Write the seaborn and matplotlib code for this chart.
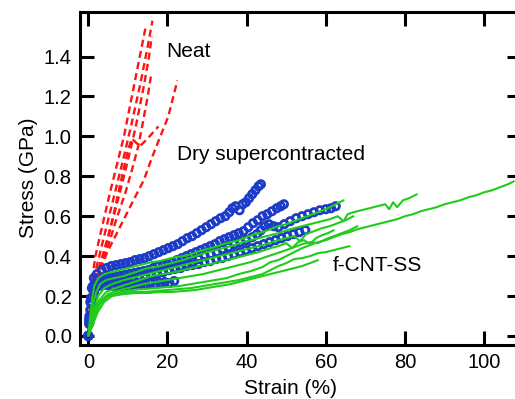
import numpy as np
import pandas as pd
import matplotlib
matplotlib.use("Agg")
import matplotlib.pyplot as plt
import seaborn as sns

RED   = "#ff1414"
BLUE  = "#1c3cc8"
GREEN = "#20cc1a"

# ---- Neat fibres (red dashed) ----
neat1_x = [0, 0.5, 1.2, 1.8, 3.5, 5.5, 7.5, 9, 11, 13, 14.5]
neat1_y = [0, 0.2, 0.32, 0.4, 0.55, 0.72, 0.88, 1.0, 1.2, 1.4, 1.55]
neat2_x = [0, 0.7, 1.5, 3, 5, 7, 9, 11, 13, 15, 16.2]
neat2_y = [0, 0.22, 0.3, 0.42, 0.58, 0.74, 0.9, 1.07, 1.25, 1.45, 1.58]
neat3_x = [0, 0.8, 2, 4, 6, 8, 10, 12, 14, 15.5, 16]
neat3_y = [0, 0.2, 0.3, 0.43, 0.57, 0.72, 0.88, 1.05, 1.25, 1.42, 1.5]
neat4_x = [0, 1, 2.5, 4.5, 6.5, 8.5, 10, 11, 13, 15, 17.7]
neat4_y = [0, 0.2, 0.3, 0.45, 0.62, 0.8, 0.93, 0.99, 0.95, 0.99, 1.05]
neat5_x = [0, 1, 2.3, 4.8, 8.1, 11.4, 14, 16.2, 18.2, 20.2, 22.5]
neat5_y = [0, 0.2, 0.3, 0.42, 0.55, 0.68, 0.78, 0.9, 1.0, 1.1, 1.28]
neat6_x = [0, 1, 3, 5, 7, 9.4, 11, 12.6, 13.6, 15, 15.8]
neat6_y = [0, 0.2, 0.33, 0.45, 0.58, 0.72, 0.83, 0.95, 1.05, 1.2, 1.3]

# ---- Dry supercontracted (blue rings) ----
dry1_x = [0, 0.2, 0.5, 0.9, 1.4, 2.2, 3.4, 4.6, 5.8, 7.0, 8.2, 9.4, 10.6, 11.8, 13.0,
          14.2, 15.4, 16.6, 17.8, 19.0, 20.2, 21.4, 22.6, 23.8, 25.0, 26.2, 27.4, 28.6,
          29.8, 31.0, 32.2, 33.4, 34.6, 35.6, 36.4, 37.2, 38.2, 39.0, 39.8, 40.6, 41.4,
          42.2, 43.0, 43.6]
dry1_y = [0, 0.08, 0.17, 0.24, 0.29, 0.31, 0.33, 0.34, 0.35, 0.355, 0.36, 0.365, 0.37,
          0.38, 0.385, 0.39, 0.40, 0.41, 0.42, 0.43, 0.44, 0.45, 0.46, 0.475, 0.49, 0.50,
          0.515, 0.53, 0.545, 0.56, 0.575, 0.59, 0.60, 0.62, 0.64, 0.65, 0.63, 0.66, 0.67,
          0.69, 0.71, 0.73, 0.75, 0.76]
dry2_x = [0, 0.3, 0.7, 1.2, 2.0, 3.2, 4.4, 5.6, 6.8, 8.0, 9.2, 10.4, 11.6, 12.8, 14.0,
          15.2, 16.4, 17.6, 18.8, 20.0, 21.2, 22.4, 23.6, 24.8, 26.0, 27.2, 28.4, 29.6,
          30.8, 32.0, 33.2, 34.4, 35.6, 36.8, 38.0, 39.2, 40.4, 41.6, 42.8, 44.0, 45.2,
          46.4, 47.6, 48.6, 49.4]
dry2_y = [0, 0.1, 0.19, 0.25, 0.27, 0.28, 0.285, 0.29, 0.295, 0.30, 0.305, 0.31, 0.315,
          0.32, 0.325, 0.33, 0.34, 0.35, 0.355, 0.36, 0.37, 0.38, 0.39, 0.40, 0.41, 0.42,
          0.43, 0.44, 0.45, 0.46, 0.475, 0.485, 0.495, 0.505, 0.515, 0.525, 0.545, 0.565,
          0.58, 0.60, 0.61, 0.625, 0.64, 0.65, 0.66]
dry3_x = [0, 0.3, 0.8, 1.4, 2.4, 3.9, 5.4, 6.9, 8.4, 9.9, 11.4, 12.9, 14.4, 15.9, 17.4,
          18.9, 20.4, 21.9, 23.4, 24.9, 26.4, 27.9, 29.4, 30.9, 32.4, 33.9, 35.4, 36.9,
          38.4, 39.9, 41.4, 42.6, 43.6, 44.6, 45.6, 46.8, 48.0, 49.5, 51.0, 52.5, 54.0,
          55.5, 57.0, 58.5, 60.0, 61.3, 62.5]
dry3_y = [0, 0.07, 0.16, 0.22, 0.25, 0.26, 0.265, 0.27, 0.275, 0.28, 0.285, 0.29, 0.295,
          0.30, 0.31, 0.32, 0.33, 0.34, 0.35, 0.36, 0.37, 0.385, 0.40, 0.41, 0.42, 0.435,
          0.445, 0.46, 0.47, 0.48, 0.495, 0.51, 0.53, 0.55, 0.56, 0.55, 0.545, 0.56, 0.575,
          0.59, 0.60, 0.61, 0.62, 0.63, 0.635, 0.64, 0.65]
dry4_x = [0, 0.2, 0.5, 0.9, 1.5, 2.5, 3.7, 4.9, 6.1, 7.3, 8.5, 9.7, 10.9, 12.1, 13.3,
          14.5, 15.7, 16.9, 18.1, 19.3, 20.5, 21.7]
dry4_y = [0, 0.06, 0.13, 0.19, 0.23, 0.25, 0.255, 0.255, 0.25, 0.25, 0.25, 0.255, 0.255,
          0.26, 0.26, 0.26, 0.265, 0.26, 0.265, 0.27, 0.265, 0.275]
dry5_x = [0, 0.3, 0.7, 1.3, 2.3, 3.8, 5.3, 6.8, 8.3, 9.8, 11.3, 12.8, 14.3, 15.8, 17.3,
          18.8, 20.3, 21.8, 23.3, 24.8, 26.3, 27.8, 29.3, 30.8, 32.3, 33.8, 35.3, 36.8,
          38.3, 39.8, 41.3, 42.8, 44.3, 45.8, 47.3, 48.8, 50.3, 51.8, 53.3, 54.8]
dry5_y = [0, 0.09, 0.17, 0.23, 0.26, 0.27, 0.275, 0.28, 0.285, 0.29, 0.295, 0.30, 0.305,
          0.31, 0.315, 0.32, 0.33, 0.335, 0.34, 0.35, 0.355, 0.36, 0.37, 0.375, 0.385,
          0.39, 0.40, 0.41, 0.42, 0.43, 0.44, 0.45, 0.46, 0.47, 0.48, 0.49, 0.50, 0.51,
          0.52, 0.53]

# ---- f-CNT-SS (green lines) ----
cnt1_x = [0, 0.8, 1.8, 3, 5, 8, 11, 14, 17, 20, 23, 26, 29, 32, 35, 38, 41, 44, 46, 48,
          50, 52, 54, 56, 58, 60, 62, 64, 66, 68, 70, 72, 74, 76, 78, 80, 82, 84, 86, 88,
          90, 92, 94, 96, 98, 100, 102, 104, 106, 107.5]
cnt1_y = [0, 0.05, 0.11, 0.16, 0.2, 0.22, 0.23, 0.235, 0.24, 0.245, 0.25, 0.26, 0.27,
          0.28, 0.29, 0.31, 0.325, 0.345, 0.37, 0.38, 0.40, 0.42, 0.44, 0.455, 0.47, 0.48,
          0.495, 0.51, 0.52, 0.535, 0.545, 0.555, 0.565, 0.575, 0.585, 0.60, 0.61, 0.625,
          0.635, 0.645, 0.66, 0.67, 0.68, 0.695, 0.705, 0.72, 0.73, 0.745, 0.76, 0.775]
cnt2_x = [0, 0.6, 1.2, 2, 3, 4.5, 6.5, 9, 12, 15, 18, 21, 24, 27, 30, 33, 36, 39, 42, 45,
          48, 51, 54, 57, 59, 61, 63, 64.5, 65.5, 67, 69, 71, 73, 75, 76, 77, 78, 79.5,
          81, 83]
cnt2_y = [0, 0.08, 0.16, 0.22, 0.26, 0.28, 0.29, 0.30, 0.32, 0.34, 0.35, 0.365, 0.38,
          0.40, 0.42, 0.435, 0.45, 0.47, 0.485, 0.50, 0.515, 0.535, 0.55, 0.565, 0.575,
          0.585, 0.60, 0.575, 0.61, 0.62, 0.63, 0.64, 0.65, 0.66, 0.635, 0.67, 0.645,
          0.68, 0.69, 0.71]
cnt3_x = [0, 0.5, 1, 1.5, 2.5, 4, 6, 8, 10, 12, 14, 16, 18, 20, 22, 24, 26, 28, 30, 32,
          34, 36, 38, 40, 42, 44, 46, 48, 50, 52, 54, 56, 58, 60, 62, 64.5]
cnt3_y = [0, 0.1, 0.19, 0.25, 0.29, 0.31, 0.32, 0.33, 0.34, 0.35, 0.36, 0.37, 0.375,
          0.385, 0.395, 0.40, 0.41, 0.425, 0.435, 0.445, 0.46, 0.47, 0.48, 0.495, 0.51,
          0.52, 0.535, 0.55, 0.56, 0.575, 0.59, 0.605, 0.62, 0.635, 0.655, 0.68]
cnt4_x = [0, 0.7, 1.5, 2.5, 4, 6, 9, 12, 15, 18, 21, 24, 27, 30, 33, 36, 39, 42, 45, 48,
          50, 52, 53.5, 55, 57, 59, 61, 63, 65, 67]
cnt4_y = [0, 0.07, 0.14, 0.2, 0.24, 0.26, 0.28, 0.295, 0.31, 0.325, 0.34, 0.355, 0.37,
          0.385, 0.40, 0.415, 0.43, 0.445, 0.46, 0.48, 0.49, 0.50, 0.475, 0.51, 0.525,
          0.54, 0.55, 0.565, 0.58, 0.60]
cnt5_x = [0, 0.8, 1.6, 2.8, 4.5, 7, 10, 13, 16, 19, 22, 25, 28, 31, 34, 37, 40, 43, 46,
          48, 50, 51.5, 53, 54.5, 56, 57.5, 59, 60.5, 62]
cnt5_y = [0, 0.07, 0.13, 0.18, 0.22, 0.24, 0.26, 0.28, 0.30, 0.31, 0.32, 0.335, 0.35,
          0.36, 0.375, 0.39, 0.405, 0.42, 0.44, 0.45, 0.465, 0.44, 0.47, 0.48, 0.46, 0.49,
          0.505, 0.515, 0.53]
cnt6_x = [0, 0.8, 1.8, 3, 5, 8, 11, 14, 17, 20, 23, 26, 29, 32, 35, 38, 41, 44, 47, 50,
          52, 54, 56, 58, 60, 62, 64, 66, 68]
cnt6_y = [0, 0.06, 0.12, 0.17, 0.21, 0.23, 0.245, 0.26, 0.27, 0.28, 0.29, 0.30, 0.31,
          0.325, 0.34, 0.355, 0.37, 0.39, 0.41, 0.43, 0.445, 0.46, 0.47, 0.465, 0.485,
          0.50, 0.515, 0.53, 0.55]
cnt7_x = [0, 1, 2, 3.5, 5.5, 8, 11, 14, 17, 20, 23, 26, 29, 32, 35, 38, 41, 44, 46, 48,
          50, 52, 54, 56, 58, 60, 62, 64, 66]
cnt7_y = [0, 0.07, 0.13, 0.18, 0.205, 0.215, 0.22, 0.22, 0.225, 0.23, 0.235, 0.24, 0.25,
          0.26, 0.27, 0.28, 0.295, 0.31, 0.33, 0.35, 0.365, 0.385, 0.39, 0.40, 0.415, 0.42,
          0.43, 0.44, 0.45]
cnt8_x = [0, 1.2, 2.4, 4, 6, 9, 12, 15, 18, 21, 24, 27, 30, 33, 36, 39, 42, 45, 48, 51,
          54, 56, 58]
cnt8_y = [0, 0.06, 0.12, 0.17, 0.2, 0.21, 0.215, 0.215, 0.22, 0.22, 0.225, 0.23, 0.24,
          0.25, 0.26, 0.275, 0.29, 0.305, 0.32, 0.335, 0.35, 0.365, 0.38]

x_ticks = [0, 20, 40, 60, 80, 100]
y_ticks = [0.0, 0.2, 0.4, 0.6, 0.8, 1.0, 1.2, 1.4]


def long_form(pairs, name):
    frames = [pd.DataFrame({"strain": x, "stress": y, "curve": f"{name}{i}"})
              for i, (x, y) in enumerate(pairs)]
    return pd.concat(frames, ignore_index=True)


neat = long_form([(neat1_x, neat1_y), (neat2_x, neat2_y), (neat3_x, neat3_y),
                  (neat4_x, neat4_y), (neat5_x, neat5_y), (neat6_x, neat6_y)], "neat")
dry = long_form([(dry1_x, dry1_y), (dry2_x, dry2_y), (dry3_x, dry3_y),
                 (dry4_x, dry4_y), (dry5_x, dry5_y)], "dry")
cnt = long_form([(cnt1_x, cnt1_y), (cnt2_x, cnt2_y), (cnt3_x, cnt3_y), (cnt4_x, cnt4_y),
                 (cnt5_x, cnt5_y), (cnt6_x, cnt6_y), (cnt7_x, cnt7_y), (cnt8_x, cnt8_y)],
                "cnt")

sns.set_theme(style="ticks")
plt.rcParams.update({
    "font.family": ["Liberation Sans", "DejaVu Sans"],
    "axes.linewidth": 2.2,
    "axes.edgecolor": "black",
    "text.color": "black",
    "axes.labelcolor": "black",
    "xtick.color": "black",
    "ytick.color": "black",
})

fig = plt.figure(figsize=(5.15, 3.99), dpi=100)
ax = fig.add_axes([80 / 515, 54.3 / 399, 441 / 515, 333 / 399])

sns.lineplot(data=neat, x="strain", y="stress", units="curve", estimator=None,
             sort=False, color=RED, lw=1.7, linestyle=(0, (3, 1.8)), ax=ax)
sns.scatterplot(data=dry, x="strain", y="stress", marker="o", s=28,
                facecolor="none", edgecolor=BLUE, linewidth=2.0, ax=ax, zorder=3)
sns.lineplot(data=cnt, x="strain", y="stress", units="curve", estimator=None,
             sort=False, color=GREEN, lw=1.5, ax=ax, zorder=4)

ax.text(19.6, 1.398, "Neat", fontsize=15, ha="left", va="baseline")
ax.text(22.4, 0.882, "Dry supercontracted", fontsize=15, ha="left", va="baseline")
ax.text(61.8, 0.325, "f-CNT-SS", fontsize=15, ha="left", va="baseline")

ax.set_xlim(-2.1, 109.3)
ax.set_ylim(-0.044, 1.625)
ax.set_xticks(x_ticks)
ax.set_yticks(y_ticks)
ax.set_yticklabels([f"{v:.1f}" for v in y_ticks])
ax.tick_params(direction="in", length=10, width=2.2, top=True, right=True,
               labelsize=14.5, pad=6, colors="black")
for s in ax.spines.values():
    s.set_visible(True)
    s.set_linewidth(2.2)

ax.set_xlabel("Strain (%)", fontsize=15)
ax.set_ylabel("Stress (GPa)", fontsize=15)
ax.xaxis.set_label_coords(0.477, -0.103)

fig.savefig("out.png", dpi=100, facecolor="white")
